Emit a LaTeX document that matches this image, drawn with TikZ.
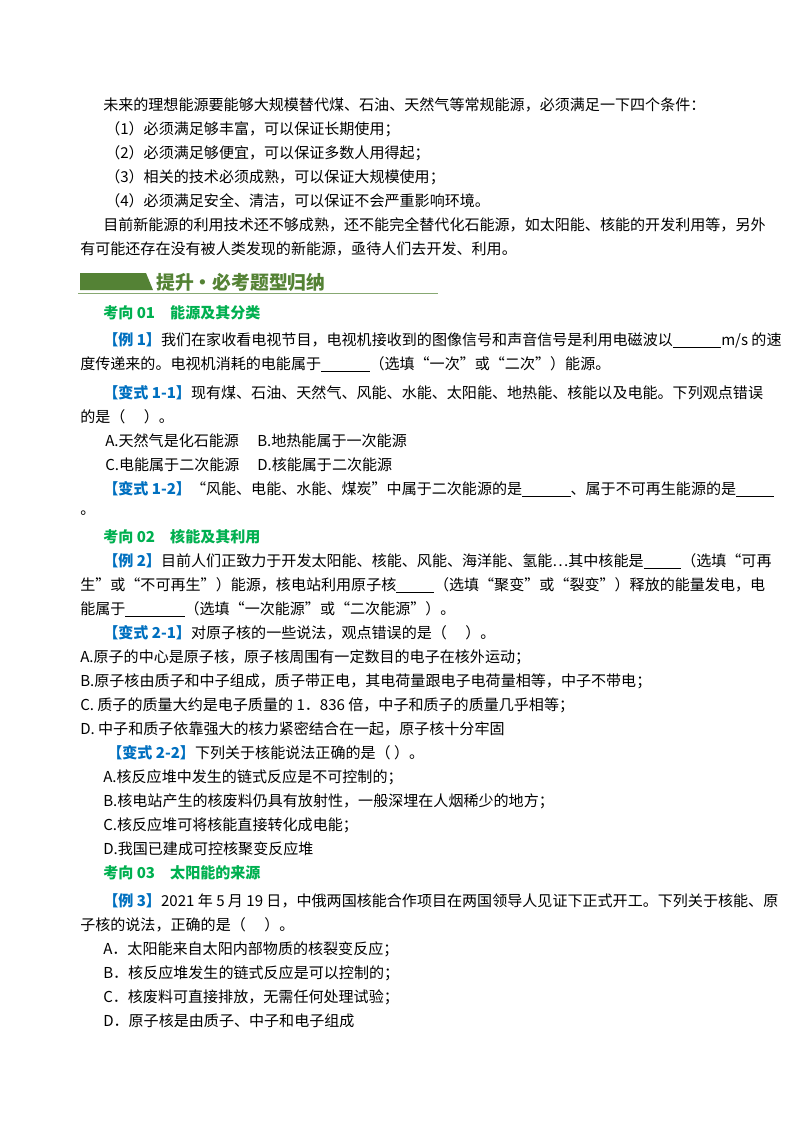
\documentclass[tikz,border=0pt]{standalone}
\usepackage{fontspec}
\setmainfont{Noto Sans CJK SC}
\newfontfamily\cjk{Noto Sans CJK SC}
\definecolor{qblue}{RGB}{0,112,192}
\definecolor{qgreen}{RGB}{0,176,80}
\definecolor{hgreen}{RGB}{84,130,53}
\newcommand{\blank}[1]{\rule[-2pt]{#1}{0.6pt}}
\newcommand{\bk}[1]{\textcolor{qblue}{\textbf{【#1】}}}
\begin{document}
\begin{tikzpicture}[x=0.744pt,y=-0.744pt,
  tx/.style={anchor=base west,inner sep=0pt,font=\fontsize{11.2pt}{13pt}\selectfont},
  hd/.style={tx,text=qgreen,font=\fontsize{11.2pt}{13pt}\selectfont\bfseries}]
\useasboundingbox[fill=white] (0,0) rectangle (800,1132);
\node[tx] (l1) at (103,110) {未来的理想能源要能够大规模替代煤、石油、天然气等常规能源，必须满足一下四个条件：};
\node[tx] (l2) at (105,134) {（1）必须满足够丰富，可以保证长期使用；};
\node[tx] (l3) at (105,158) {（2）必须满足够便宜，可以保证多数人用得起；};
\node[tx] (l4) at (105,182) {（3）相关的技术必须成熟，可以保证大规模使用；};
\node[tx] (l5) at (105,206) {（4）必须满足安全、清洁，可以保证不会严重影响环境。};
\node[tx] (l6) at (103,230) {目前新能源的利用技术还不够成熟，还不能完全替代化石能源，如太阳能、核能的开发利用等，另外};
\node[tx] (l7) at (80,254) {有可能还存在没有被人类发现的新能源，亟待人们去开发、利用。};
\fill[hgreen] (80,273) -- (146,273) -- (153,290) -- (80,290) -- cycle;
\node[tx,text=hgreen,font=\fontsize{14pt}{16pt}\selectfont\bfseries] (h) at (156,289) {提升·必考题型归纳};
\draw[hgreen!70,line width=0.6pt] (78,293) -- (438,293);
\node[hd] (k1) at (103,318) {考向 01\quad 能源及其分类};
\node[tx] (e1) at (103,345) {\bk{例 1}我们在家收看电视节目，电视机接收到的图像信号和声音信号是利用电磁波以\blank{36pt}m/s 的速};
\node[tx] (e1b) at (80,369) {度传递来的。电视机消耗的电能属于\blank{36pt}（选填“一次”或“二次”）能源。};
\node[tx] (v1) at (103,398) {\bk{变式 1-1}现有煤、石油、天然气、风能、水能、太阳能、地热能、核能以及电能。下列观点错误};
\node[tx] (v1b) at (80,422) {的是（\quad\ ）。};
\node[tx] (a1) at (105,446) {A.天然气是化石能源};
\node[tx] (b1) at (257,446) {B.地热能属于一次能源};
\node[tx] (c1) at (105,470) {C.电能属于二次能源};
\node[tx] (d1) at (257,470) {D.核能属于二次能源};
\node[tx] (v2) at (103,494) {\bk{变式 1-2}“风能、电能、水能、煤炭”中属于二次能源的是\blank{36pt}、属于不可再生能源的是\blank{28pt}};
\node[tx] (v2b) at (80,514) {。};
\node[hd] (k2) at (103,542) {考向 02\quad 核能及其利用};
\node[tx] (e2) at (103,566) {\bk{例 2}目前人们正致力于开发太阳能、核能、风能、海洋能、氢能…其中核能是\blank{28pt}（选填“可再};
\node[tx] (e2b) at (80,590) {生”或“不可再生”）能源，核电站利用原子核\blank{28pt}（选填“聚变”或“裂变”）释放的能量发电，电};
\node[tx] (e2c) at (80,614) {能属于\blank{44pt}（选填“一次能源”或“二次能源”）。};
\node[tx] (v3) at (103,638) {\bk{变式 2-1}对原子核的一些说法，观点错误的是（\quad\ ）。};
\node[tx] (a3) at (80,662) {A.原子的中心是原子核，原子核周围有一定数目的电子在核外运动；};
\node[tx] (b3) at (80,686) {B.原子核由质子和中子组成，质子带正电，其电荷量跟电子电荷量相等，中子不带电；};
\node[tx] (c3) at (80,710) {C.\ 质子的质量大约是电子质量的 1．836 倍，中子和质子的质量几乎相等；};
\node[tx] (d3) at (80,734) {D.\ 中子和质子依靠强大的核力紧密结合在一起，原子核十分牢固};
\node[tx] (v4) at (107,758) {\bk{变式 2-2}下列关于核能说法正确的是（\ ）。};
\node[tx] (a4) at (103,782) {A.核反应堆中发生的链式反应是不可控制的；};
\node[tx] (b4) at (103,806) {B.核电站产生的核废料仍具有放射性，一般深埋在人烟稀少的地方；};
\node[tx] (c4) at (103,830) {C.核反应堆可将核能直接转化成电能；};
\node[tx] (d4) at (103,854) {D.我国已建成可控核聚变反应堆};
\node[hd] (k3) at (103,878) {考向 03\quad 太阳能的来源};
\node[tx] (e3) at (103,906) {\bk{例 3}2021 年 5 月 19 日，中俄两国核能合作项目在两国领导人见证下正式开工。下列关于核能、原};
\node[tx] (e3b) at (80,930) {子核的说法，正确的是（\quad\ ）。};
\node[tx] (a5) at (103,954) {A．太阳能来自太阳内部物质的核裂变反应；};
\node[tx] (b5) at (103,978) {B．核反应堆发生的链式反应是可以控制的；};
\node[tx] (c5) at (103,1002) {C．核废料可直接排放，无需任何处理试验；};
\node[tx] (d5) at (103,1026) {D．原子核是由质子、中子和电子组成};
\end{tikzpicture}
\end{document}
